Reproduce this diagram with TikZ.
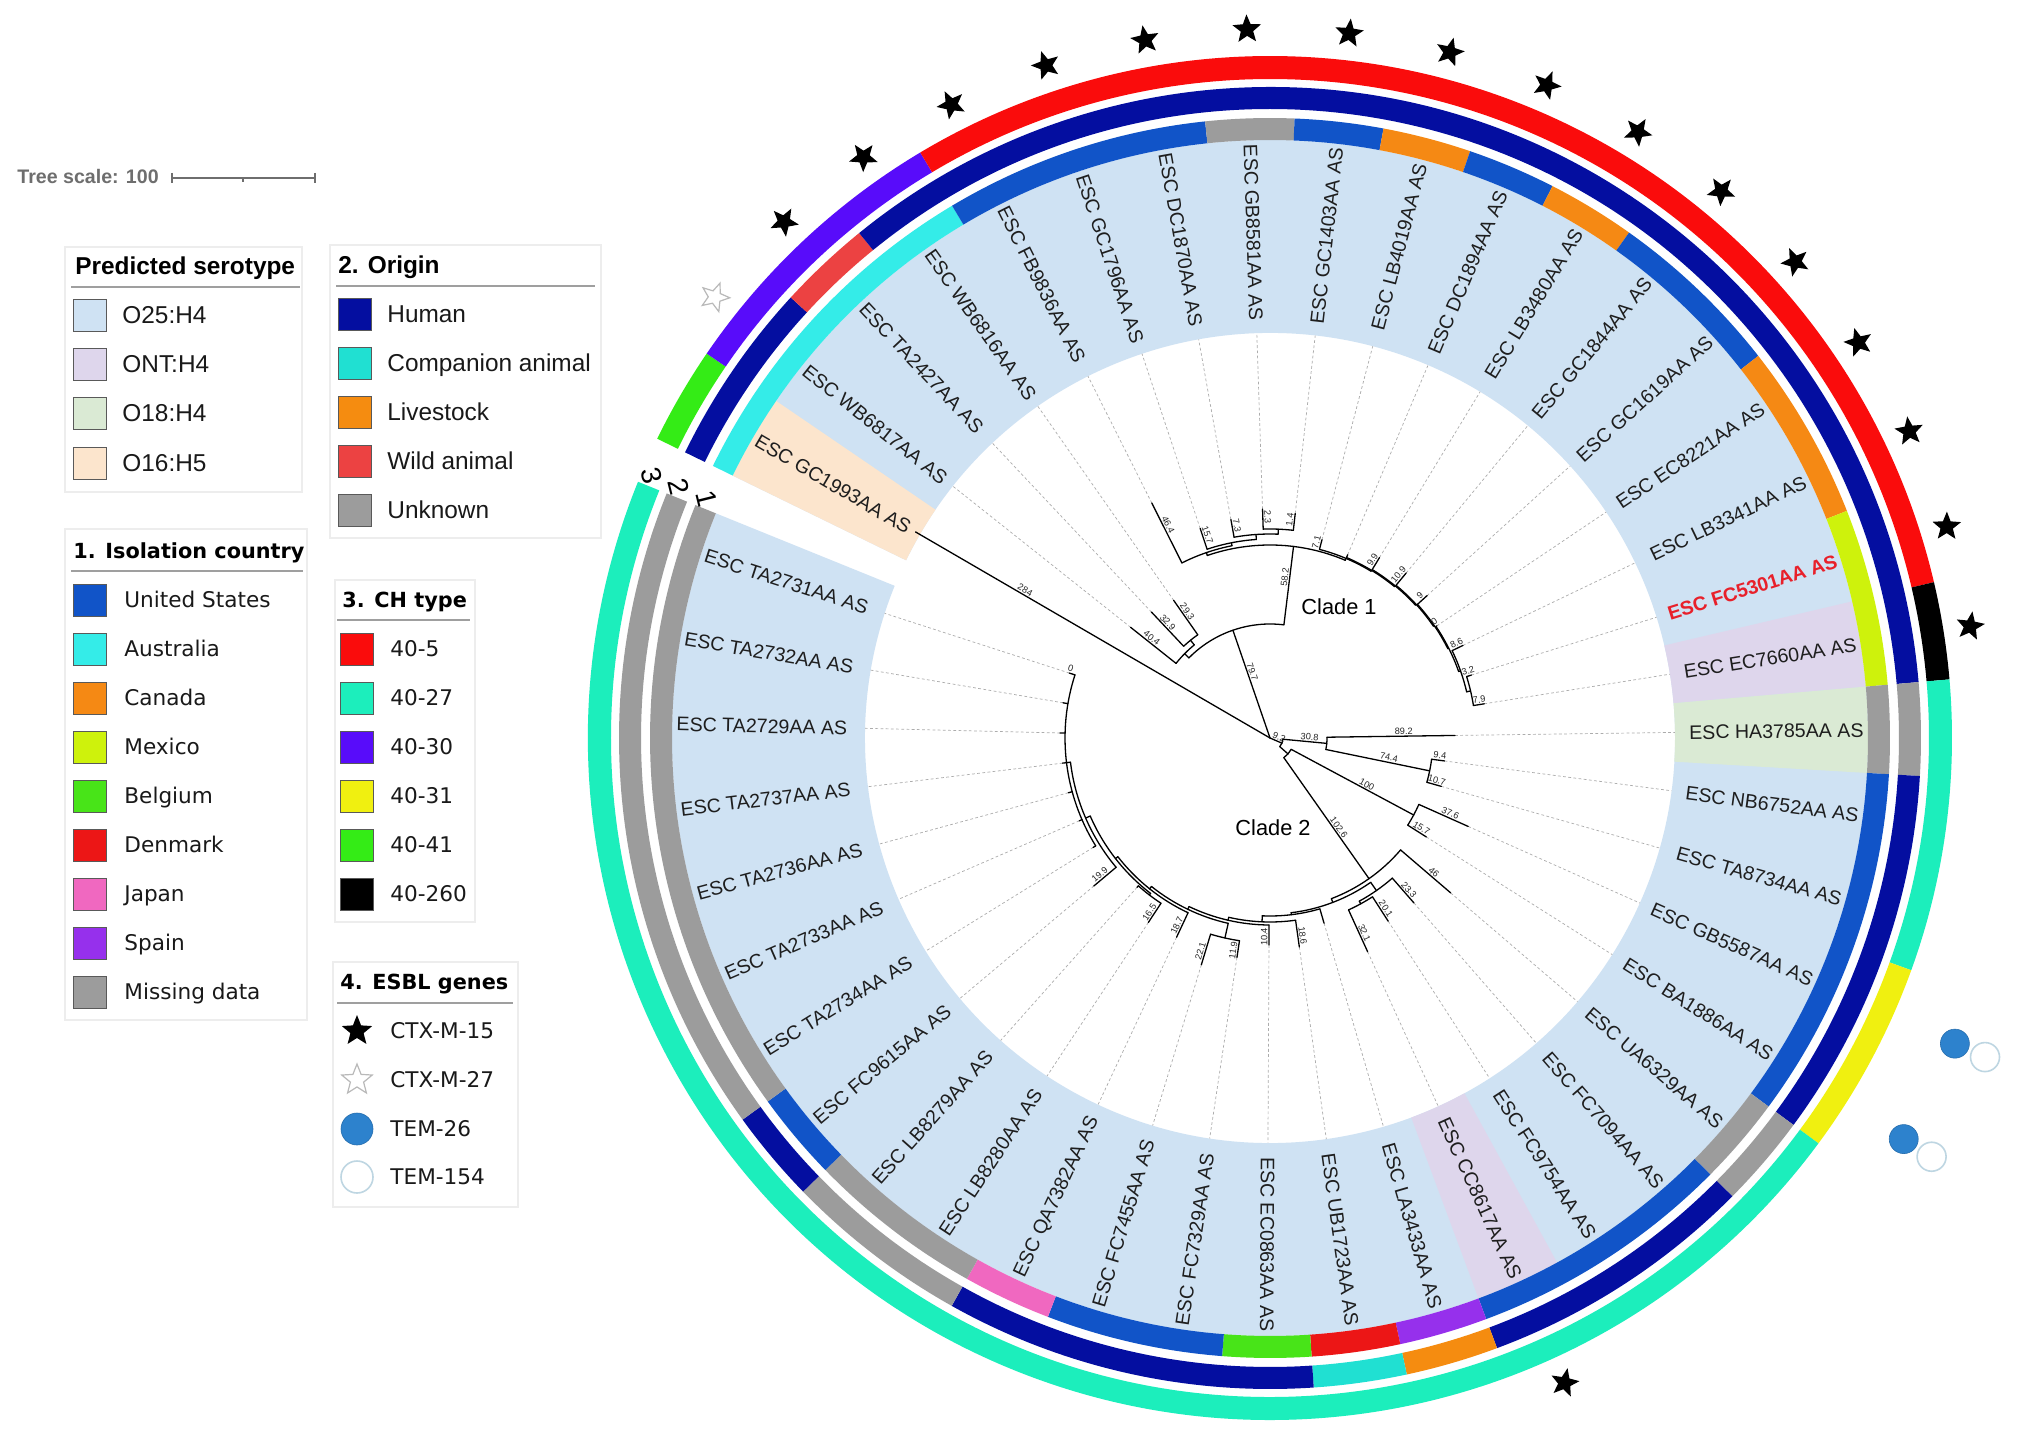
\documentclass[tikz,border=0pt]{standalone}
\usepackage{fontspec}
\setmainfont{Liberation Sans}
\newfontfamily\dvs{DejaVu Sans}
\usetikzlibrary{shapes.geometric}
\definecolor{cUS}{RGB}{17,84,200}
\definecolor{cAU}{RGB}{52,236,232}
\definecolor{cCA}{RGB}{245,137,20}
\definecolor{cMX}{RGB}{206,242,12}
\definecolor{cBE}{RGB}{72,228,24}
\definecolor{cDK}{RGB}{236,22,22}
\definecolor{cJP}{RGB}{240,104,192}
\definecolor{cES}{RGB}{150,48,236}
\definecolor{cMS}{RGB}{156,156,156}
\definecolor{oHu}{RGB}{4,14,160}
\definecolor{oCo}{RGB}{32,224,210}
\definecolor{oLi}{RGB}{245,140,16}
\definecolor{oWi}{RGB}{236,66,66}
\definecolor{oUn}{RGB}{156,156,156}
\definecolor{hA}{RGB}{250,12,12}
\definecolor{hB}{RGB}{28,238,188}
\definecolor{hC}{RGB}{88,12,250}
\definecolor{hD}{RGB}{240,240,16}
\definecolor{hE}{RGB}{52,236,22}
\definecolor{hF}{RGB}{0,0,0}
\definecolor{sA}{RGB}{207,226,243}
\definecolor{sB}{RGB}{222,214,236}
\definecolor{sC}{RGB}{218,234,212}
\definecolor{sD}{RGB}{252,229,205}
\definecolor{temA}{RGB}{45,130,205}
\definecolor{temB}{RGB}{190,214,226}
\definecolor{lblc}{RGB}{30,30,30}
\definecolor{redlbl}{RGB}{232,32,42}
\definecolor{scl}{RGB}{110,110,110}
\newcommand\lgA{\fontsize{12.2pt}{14pt}\selectfont}
\newcommand\lgB{\dvs\fontsize{10.8pt}{13pt}\selectfont}
\newcommand\lgT{\dvs\bfseries\fontsize{10.4pt}{13pt}\selectfont}
\newcommand\mySect[5]{\fill[#5] (#1:#3) arc[start angle=#1,end angle=#2,radius=#3] -- (#2:#4) arc[start angle=#2,end angle=#1,radius=#4] -- cycle;}
\newcommand\myRng[5]{\pgfmathsetmacro\myA{162.25-8.28*#1}\pgfmathsetmacro\myB{153.97-8.28*#2}\mySect{\myA}{\myB}{#3}{#4}{#5}}
\newcommand\Rd[3]{\draw[br] (#1:#2) -- (#1:#3);}
\newcommand\Ac[3]{\draw[br] (#1:#3) arc[start angle=#1,end angle=#2,radius=#3];}
\newcommand\Bl[4]{\pgfmathsetmacro\myM{#2+0.6*(#3-#2)}\pgfmathsetmacro\myR{cos(#1)<0 ? #1+180 : #1}\node[blab,rotate=\myR] at (#1:\myM) {#4};}
\tikzset{
  br/.style={line width=0.65pt,line cap=round,line join=round,black},
  blab/.style={anchor=south,inner sep=0.6pt,font=\fontsize{4.6pt}{5pt}\selectfont,text=black!85},
  leader/.style={draw=gray!65,line width=0.35pt,dash pattern=on 1.4pt off 1.2pt},
  leaf/.style={inner sep=0pt,text height=7.05pt,text depth=0pt,font=\fontsize{9.8pt}{10pt}\selectfont,text=lblc},
  fstar/.style={star,star points=5,star point ratio=2.3,fill=black,minimum size=15pt,inner sep=0pt},
  hstar/.style={star,star points=5,star point ratio=2.3,fill=white,draw=gray!55,line width=0.6pt,minimum size=15pt,inner sep=0pt},
  temfill/.style={circle,fill=temA,draw=temA!85!black,line width=0.3pt,minimum size=14.5pt,inner sep=0pt},
  temhol/.style={circle,fill=white,draw=temB,line width=0.8pt,minimum size=14.5pt,inner sep=0pt},
  sw/.style={draw=gray!70!black,line width=0.4pt,minimum width=16.5pt,minimum height=16pt,inner sep=0pt},
  lt/.style={anchor=west,inner sep=0pt,font=\lgA,text height=8.8pt,text depth=0pt,text=black!90},
  ltb/.style={anchor=west,inner sep=0pt,font=\lgB,text height=7.9pt,text depth=0pt,text=black!90},
  ttA/.style={anchor=west,inner sep=0pt,font=\bfseries\lgA,text height=8.8pt,text depth=0pt},
  ttB/.style={anchor=west,inner sep=0pt,font=\lgT,text height=7.6pt,text depth=0pt},
  frm/.style={draw=gray!14,line width=0.6pt},
  rule/.style={draw=gray!75,line width=0.7pt},
  gapnum/.style={font=\fontsize{14pt}{14pt}\selectfont,rotate=-76,inner sep=0pt}
}
\begin{document}
\begin{tikzpicture}[x=0.5pt,y=0.5pt]
\useasboundingbox (0,0) rectangle (2022,1442);
\fill[white] (0,0) rectangle (2022,1442);

% ===================== circular tree =====================
\begin{scope}[shift={(1270,704)}]
% serotype shading
\myRng{1}{43}{405}{598}{sA}
\myRng{1}{1}{405}{598}{sD}
\myRng{18}{18}{405}{598}{sB}
\myRng{19}{19}{405}{598}{sC}
\myRng{27}{27}{405}{598}{sB}
% ring 1: isolation country
\myRng{1}{4}{598}{620}{cAU}
\myRng{5}{7}{598}{620}{cUS}
\myRng{8}{8}{598}{620}{cMS}
\myRng{9}{9}{598}{620}{cUS}
\myRng{10}{10}{598}{620}{cCA}
\myRng{11}{11}{598}{620}{cUS}
\myRng{12}{12}{598}{620}{cCA}
\myRng{13}{14}{598}{620}{cUS}
\myRng{15}{16}{598}{620}{cCA}
\myRng{17}{18}{598}{620}{cMX}
\myRng{19}{19}{598}{620}{cMS}
\myRng{20}{23}{598}{620}{cUS}
\myRng{24}{24}{598}{620}{cMS}
\myRng{25}{27}{598}{620}{cUS}
\myRng{28}{28}{598}{620}{cES}
\myRng{29}{29}{598}{620}{cDK}
\myRng{30}{30}{598}{620}{cBE}
\myRng{31}{32}{598}{620}{cUS}
\myRng{33}{33}{598}{620}{cJP}
\myRng{34}{35}{598}{620}{cMS}
\myRng{36}{36}{598}{620}{cUS}
\myRng{37}{43}{598}{620}{cMS}
% ring 2: origin
\myRng{1}{2}{629}{651}{oHu}
\myRng{3}{3}{629}{651}{oWi}
\myRng{4}{18}{629}{651}{oHu}
\myRng{19}{19}{629}{651}{oUn}
\myRng{20}{23}{629}{651}{oHu}
\myRng{24}{24}{629}{651}{oUn}
\myRng{25}{27}{629}{651}{oHu}
\myRng{28}{28}{629}{651}{oLi}
\myRng{29}{29}{629}{651}{oCo}
\myRng{30}{33}{629}{651}{oHu}
\myRng{34}{35}{629}{651}{oUn}
\myRng{36}{36}{629}{651}{oHu}
\myRng{37}{43}{629}{651}{oUn}
% ring 3: CH type
\myRng{1}{1}{659}{682}{hE}
\myRng{2}{4}{659}{682}{hC}
\myRng{5}{17}{659}{682}{hA}
\myRng{18}{18}{659}{682}{hF}
\myRng{19}{21}{659}{682}{hB}
\myRng{22}{23}{659}{682}{hD}
\myRng{24}{43}{659}{682}{hB}
% ring numbers in the gap
\node[gapnum] (g3) at (157:672) {3};
\node[gapnum] (g2) at (157:642) {2};
\node[gapnum] (g1) at (157:612) {1};

% ESBL symbols
\foreach \k in {3,...,18,27}{
  \pgfmathsetmacro\myT{158.11-8.28*\k}
  \node[fstar,rotate=\myT-90] (st\k) at (\myT:709) {};
}
\node[hstar,rotate=51.55] (st2) at (141.55:709) {};
\node[temfill] (ta22) at (-24.05:750) {};
\node[temhol] (tb22) at (-24.05:783) {};
\node[temfill] (ta23) at (-32.33:750) {};
\node[temhol] (tb23) at (-32.33:783) {};

% leaders and labels (right side)
\foreach \k/\nm/\tp in {9/GC1403/226,10/LB4019/205,11/DC1894/199,12/LB3480/211,13/GC1844/214,14/GC1619/212,15/EC8221/201,16/LB3341/214,18/EC7660/217,19/HA3785/185,20/NB6752/176,21/TA8734/178,22/GB5587/217,23/BA1886/185,24/UA6329/238,25/FC7094/219,26/FC9754/218,27/CC8617/235,28/LA3433/193,29/UB1723/211,30/EC0863/207}{
  \pgfmathsetmacro\myT{158.11-8.28*\k}
  \draw[leader] (\myT:\tp) -- (\myT:405);
  \node[leaf,anchor=east,rotate=\myT] (L\k) at (\myT:594) {ESC \nm AA AS};
}
\draw[leader] (17.35:211) -- (17.35:405);
\node[leaf,anchor=east,rotate=17.35,text=redlbl,font=\bfseries\fontsize{9.8pt}{10pt}\selectfont] (L17) at (17.35:594) {ESC FC5301AA AS};
% leaders and labels (left side)
\foreach \k/\nm/\tp in {1/GC1993/410,2/WB6817/178,3/TA2427/173,4/WB6816/168,5/FB9836/263,6/GC1796/221,7/DC1870/222,8/GB8581/229,31/FC7329/222,32/FC7455/237,33/QA7382/220,34/LB8280/221,35/LB8279/200,36/FC9615/230,37/TA2734/208,38/TA2733/208,39/TA2736/209,40/TA2737/209,41/TA2729/210,42/TA2732/210,43/TA2731/211}{
  \pgfmathsetmacro\myT{158.11-8.28*\k}
  \draw[leader] (\myT:\tp) -- (\myT:405);
  \node[leaf,anchor=west,rotate=\myT+180] (L\k) at (\myT:594) {ESC \nm AA AS};
}

% ---------- tree ----------
\Rd{149.83}{0}{410}
\Rd{109}{0}{114}
\Rd{-23.46}{0}{13}
% clade 1
\Ac{135.34}{83}{114}
\Rd{135.34}{114}{120}
\Rd{83}{114}{193}
\Ac{141.55}{129.13}{120}
\Rd{141.55}{120}{178}
\Rd{129.13}{120}{126}
\Ac{133.27}{124.99}{126}
\Rd{133.27}{126}{173}
\Rd{124.99}{126}{168}
\Ac{108.95}{67.06}{193}
\Rd{108.95}{193}{196}
\Rd{67.06}{193}{195}
\Ac{116.71}{101.19}{196}
\Rd{116.71}{196}{263}
\Rd{101.19}{196}{199}
\Ac{108.43}{93.94}{199}
\Rd{108.43}{199}{221}
\Rd{93.94}{199}{204}
\Ac{100.15}{87.73}{204}
\Rd{100.15}{204}{222}
\Rd{87.73}{204}{209}
\Ac{91.87}{83.59}{209}
\Rd{91.87}{209}{229}
\Rd{83.59}{209}{226}
\Ac{75.31}{58.8}{195}  \Rd{75.31}{195}{205}  \Rd{58.8}{195}{196}
\Ac{67.03}{50.6}{196}  \Rd{67.03}{196}{199}  \Rd{50.6}{196}{197}
\Ac{58.75}{42.45}{197} \Rd{58.75}{197}{211}  \Rd{42.45}{197}{198}
\Ac{50.47}{34.43}{198} \Rd{50.47}{198}{214}  \Rd{34.43}{198}{199}
\Ac{42.19}{26.67}{199} \Rd{42.19}{199}{212}  \Rd{26.67}{199}{200}
\Ac{33.91}{19.42}{200} \Rd{33.91}{200}{201}  \Rd{19.42}{200}{202}
\Ac{25.63}{13.21}{202} \Rd{25.63}{202}{214}  \Rd{13.21}{202}{206}
\Ac{17.35}{9.07}{206}  \Rd{17.35}{206}{211}  \Rd{9.07}{206}{217}
% clade 2
\Ac{-5.42}{-41.5}{13}
\Rd{-5.42}{13}{57}
\Rd{-41.5}{13}{24}
\Ac{0.79}{-11.63}{57}
\Rd{0.79}{57}{185}
\Rd{-11.63}{57}{163}
\Ac{-7.49}{-15.77}{163}
\Rd{-7.49}{163}{176}
\Rd{-15.77}{163}{178}
\Ac{-28.19}{-54.86}{24}
\Rd{-28.19}{24}{163}
\Rd{-54.86}{24}{172}
\Ac{-24.05}{-32.33}{163}
\Rd{-24.05}{163}{217}
\Rd{-32.33}{163}{185}
\Ac{-40.61}{-69.1}{172}
\Rd{-40.61}{172}{238}
\Rd{-69.1}{172}{176}
\Ac{-55.1}{-83.11}{176}
\Rd{-55.1}{176}{186}
\Rd{-83.11}{176}{178}
\Ac{-48.89}{-61.31}{186}
\Rd{-48.89}{186}{219}
\Rd{-61.31}{186}{189}
\Ac{-57.17}{-65.45}{189}
\Rd{-57.17}{189}{218}
\Rd{-65.45}{189}{235}
\Ac{-73.73}{-92.49}{178}
\Rd{-73.73}{178}{193}
\Rd{-92.49}{178}{184}
\Ac{-82.01}{-102.97}{184}
\Rd{-82.01}{184}{211}
\Rd{-102.97}{184}{187}
\Ac{-90.29}{-115.65}{187}
\Rd{-90.29}{187}{207}
\Rd{-115.65}{187}{190}
\Ac{-102.71}{-128.6}{190}
\Rd{-102.71}{190}{205}
\Rd{-128.6}{190}{193}
\Ac{-98.57}{-106.85}{205}
\Rd{-98.57}{205}{222}
\Rd{-106.85}{205}{237}
\Ac{-115.13}{-142.04}{193}
\Rd{-115.13}{193}{220}
\Rd{-142.04}{193}{196}
\Ac{-127.55}{-156.53}{196}
\Rd{-127.55}{196}{198}
\Rd{-156.53}{196}{201}
\Ac{-123.41}{-131.69}{198}
\Rd{-123.41}{198}{221}
\Rd{-131.69}{198}{200}
\Ac{-139.97}{-173.09}{201}
\Rd{-139.97}{201}{230}
\Rd{-173.09}{201}{205}
\Ac{-148.25}{-197.93}{205}
\Rd{-148.25}{205}{208}
\Rd{-156.53}{205}{208}
\Rd{-164.81}{205}{209}
\Rd{-173.09}{205}{209}
\Rd{-181.37}{205}{210}
\Rd{-189.65}{205}{210}
\Rd{-197.93}{205}{211}

% branch length labels
\Bl{149.83}{100}{410}{284}
\Bl{109}{0}{114}{79.7}
\Bl{83}{114}{193}{58.2}
\Bl{141.55}{120}{178}{40.4}
\Bl{133.27}{126}{173}{32.9}
\Bl{124.99}{126}{168}{29.3}
\Bl{116.71}{196}{263}{46.4}
\Bl{108.43}{199}{221}{15.7}
\Bl{100.15}{204}{222}{7.3}
\Bl{91.87}{209}{229}{2.3}
\Bl{83.59}{209}{226}{1.4}
\Bl{75.31}{195}{205}{7.1}
\Bl{58.75}{197}{211}{9.9}
\Bl{50.47}{198}{214}{10.9}
\Bl{42.19}{199}{212}{9}
\Bl{33.91}{195}{205}{0}
\Bl{25.63}{202}{214}{8.6}
\Bl{17.35}{206}{211}{3.2}
\Bl{9.07}{206}{217}{7.9}
\Bl{-23.46}{0}{13}{9.2}
\Bl{-5.42}{13}{57}{30.8}
\Bl{0.79}{57}{185}{89.2}
\Bl{-11.63}{57}{163}{74.4}
\Bl{-7.49}{163}{176}{9.4}
\Bl{-15.77}{163}{178}{10.7}
\Bl{-28.19}{24}{163}{100}
\Bl{-24.05}{163}{217}{37.6}
\Bl{-32.33}{163}{185}{15.7}
\Bl{-54.86}{24}{172}{102.6}
\Bl{-40.61}{172}{238}{46}
\Bl{-48.89}{186}{219}{23.3}
\Bl{-57.17}{189}{218}{20.1}
\Bl{-65.45}{189}{235}{32.1}
\Bl{-82.01}{184}{211}{18.6}
\Bl{-90.29}{187}{207}{10.4}
\Bl{-98.57}{205}{222}{11.9}
\Bl{-106.85}{205}{237}{22.1}
\Bl{-115.13}{193}{220}{18.7}
\Bl{-123.41}{198}{221}{16.5}
\Bl{-139.97}{201}{230}{19.9}
\Bl{-197.93}{205}{215}{0}

\node[font=\fontsize{10.9pt}{12pt}\selectfont,inner sep=0pt] (c1) at (69,131) {Clade 1};
\node[font=\fontsize{10.9pt}{12pt}\selectfont,inner sep=0pt] (c2) at (3,-90) {Clade 2};
\end{scope}

% ===================== legends =====================
\begin{scope}[shift={(0,1442)},y=-0.5pt]
% tree scale
\node[anchor=west,inner sep=0pt,font=\bfseries\fontsize{9.8pt}{11pt}\selectfont,text=scl] (ts) at (17,177) {Tree scale: 100};
\coordinate (sb1) at (172,178);
\coordinate (sb2) at (315,178);
\draw[scl,line width=0.6pt] (sb1) -- (sb2);
\draw[scl,line width=0.6pt] (172,173) -- (172,183) (315,173) -- (315,183) (243,178) -- (243,182);

% predicted serotype
\draw[frm] (65,247) rectangle (302,492);
\node[ttA] (tA) at (75,266) {Predicted serotype};
\draw[rule] (71,287) -- (300,287);
\node[sw,fill=sA] (a1) at (90,315) {}; \node[lt] at (122,315) {O25:H4};
\node[sw,fill=sB] (a2) at (90,364) {}; \node[lt] at (122,364) {ONT:H4};
\node[sw,fill=sC] (a3) at (90,413) {}; \node[lt] at (122,413) {O18:H4};
\node[sw,fill=sD] (a4) at (90,463) {}; \node[lt] at (122,463) {O16:H5};

% origin
\draw[frm] (330,245) rectangle (601,538);
\node[ttA] (tB) at (338,265) {2. Origin};
\draw[rule] (336,286) -- (595,286);
\node[sw,fill=oHu] (b1) at (355,314) {}; \node[lt] at (387,314) {Human};
\node[sw,fill=oCo] (b2) at (355,363) {}; \node[lt] at (387,363) {Companion animal};
\node[sw,fill=oLi] (b3) at (355,412) {}; \node[lt] at (387,412) {Livestock};
\node[sw,fill=oWi] (b4) at (355,461) {}; \node[lt] at (387,461) {Wild animal};
\node[sw,fill=oUn] (b5) at (355,510) {}; \node[lt] at (387,510) {Unknown};

% isolation country
\draw[frm] (65,529) rectangle (307,1020);
\node[ttB] (tC) at (73,551) {1. Isolation country};
\draw[rule] (71,571) -- (303,571);
\node[sw,fill=cUS] (c1) at (90,600) {}; \node[ltb] at (124,600) {United States};
\node[sw,fill=cAU] (c2) at (90,649) {}; \node[ltb] at (124,649) {Australia};
\node[sw,fill=cCA] (c3) at (90,698) {}; \node[ltb] at (124,698) {Canada};
\node[sw,fill=cMX] (c4) at (90,747) {}; \node[ltb] at (124,747) {Mexico};
\node[sw,fill=cBE] (c5) at (90,796) {}; \node[ltb] at (124,796) {Belgium};
\node[sw,fill=cDK] (c6) at (90,845) {}; \node[ltb] at (124,845) {Denmark};
\node[sw,fill=cJP] (c7) at (90,894) {}; \node[ltb] at (124,894) {Japan};
\node[sw,fill=cES] (c8) at (90,943) {}; \node[ltb] at (124,943) {Spain};
\node[sw,fill=cMS] (c9) at (90,992) {}; \node[ltb] at (124,992) {Missing data};

% CH type
\draw[frm] (335,580) rectangle (475,922);
\node[ttB] (tD) at (342,600) {3. CH type};
\draw[rule] (337,620) -- (470,620);
\node[sw,fill=hA] (d1) at (357,649) {}; \node[ltb] at (390,649) {40-5};
\node[sw,fill=hB] (d2) at (357,698) {}; \node[ltb] at (390,698) {40-27};
\node[sw,fill=hC] (d3) at (357,747) {}; \node[ltb] at (390,747) {40-30};
\node[sw,fill=hD] (d4) at (357,796) {}; \node[ltb] at (390,796) {40-31};
\node[sw,fill=hE] (d5) at (357,845) {}; \node[ltb] at (390,845) {40-41};
\node[sw,fill=hF] (d6) at (357,894) {}; \node[ltb] at (390,894) {40-260};

% ESBL genes
\draw[frm] (333,962) rectangle (518,1207);
\node[ttB] (tE) at (340,982) {4. ESBL genes};
\draw[rule] (337,1003) -- (513,1003);
\node[fstar,minimum size=16pt] (e1) at (357,1031) {}; \node[ltb] at (390,1031) {CTX-M-15};
\node[hstar,minimum size=16pt] (e2) at (357,1080) {}; \node[ltb] at (390,1080) {CTX-M-27};
\node[temfill,minimum size=16pt] (e3) at (357,1129) {}; \node[ltb] at (390,1129) {TEM-26};
\node[temhol,minimum size=16pt] (e4) at (357,1177) {}; \node[ltb] at (390,1177) {TEM-154};
\end{scope}
\end{tikzpicture}
\end{document}
